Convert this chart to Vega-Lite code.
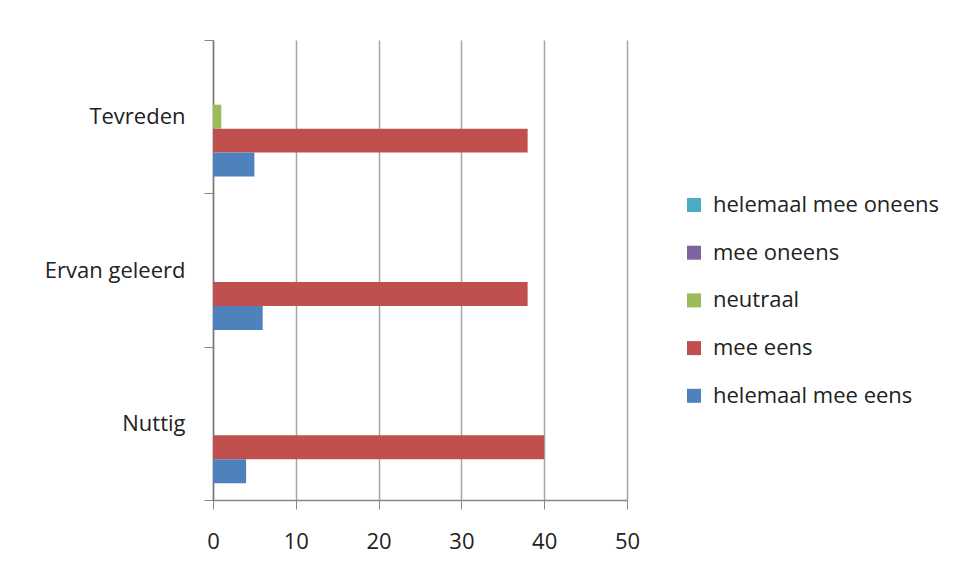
{
  "$schema": "https://vega.github.io/schema/vega-lite/v6.json",
  "autosize": "none",
  "width": 414,
  "height": 460,
  "padding": {"left": 213, "top": 40, "right": 328, "bottom": 81},
  "background": "#ffffff",
  "config": {
    "view": {"stroke": null},
    "font": "Open Sans"
  },
  "data": {
    "values": [
      {"vraag": "Tevreden", "antwoord": "helemaal mee oneens", "aantal": 0},
      {"vraag": "Tevreden", "antwoord": "mee oneens", "aantal": 0},
      {"vraag": "Tevreden", "antwoord": "neutraal", "aantal": 1},
      {"vraag": "Tevreden", "antwoord": "mee eens", "aantal": 38},
      {"vraag": "Tevreden", "antwoord": "helemaal mee eens", "aantal": 5},
      {"vraag": "Ervan geleerd", "antwoord": "helemaal mee oneens", "aantal": 0},
      {"vraag": "Ervan geleerd", "antwoord": "mee oneens", "aantal": 0},
      {"vraag": "Ervan geleerd", "antwoord": "neutraal", "aantal": 0},
      {"vraag": "Ervan geleerd", "antwoord": "mee eens", "aantal": 38},
      {"vraag": "Ervan geleerd", "antwoord": "helemaal mee eens", "aantal": 6},
      {"vraag": "Nuttig", "antwoord": "helemaal mee oneens", "aantal": 0},
      {"vraag": "Nuttig", "antwoord": "mee oneens", "aantal": 0},
      {"vraag": "Nuttig", "antwoord": "neutraal", "aantal": 0},
      {"vraag": "Nuttig", "antwoord": "mee eens", "aantal": 40},
      {"vraag": "Nuttig", "antwoord": "helemaal mee eens", "aantal": 4}
    ]
  },
  "mark": {"type": "bar", "strokeWidth": 0},
  "encoding": {
    "y": {
      "field": "vraag",
      "type": "nominal",
      "sort": ["Tevreden", "Ervan geleerd", "Nuttig"],
      "scale": {"paddingInner": 0, "paddingOuter": 0},
      "axis": {
        "title": null,
        "tickBand": "extent",
        "tickSize": 9,
        "tickColor": "#868686",
        "domainColor": "#7a7a7a",
        "domainWidth": 1.5,
        "labelFontSize": 22,
        "labelColor": "#222222",
        "labelPadding": 19,
        "grid": false
      }
    },
    "yOffset": {
      "field": "antwoord",
      "type": "nominal",
      "sort": ["helemaal mee oneens", "mee oneens", "neutraal", "mee eens", "helemaal mee eens"],
      "scale": {"paddingInner": 0, "paddingOuter": 0.7}
    },
    "x": {
      "field": "aantal",
      "type": "quantitative",
      "scale": {"domain": [0, 50], "nice": false},
      "axis": {
        "title": null,
        "values": [0, 10, 20, 30, 40, 50],
        "tickSize": 9,
        "tickColor": "#868686",
        "domainColor": "#868686",
        "domainWidth": 1.5,
        "gridColor": "#a6a6a6",
        "gridWidth": 1.5,
        "labelFontSize": 22,
        "labelColor": "#222222",
        "labelPadding": 22,
        "labelFlush": false
      }
    },
    "color": {
      "field": "antwoord",
      "type": "nominal",
      "scale": {
        "domain": ["helemaal mee oneens", "mee oneens", "neutraal", "mee eens", "helemaal mee eens"],
        "range": ["#4bacc6", "#8064a2", "#9bbb59", "#c0504d", "#4f81bd"]
      },
      "legend": {
        "title": null,
        "orient": "none",
        "legendX": 470,
        "legendY": 154,
        "padding": 0,
        "symbolType": "square",
        "symbolSize": 196,
        "symbolStrokeWidth": 0,
        "labelFontSize": 22,
        "labelColor": "#222222",
        "labelOffset": 8,
        "rowPadding": 25.7,
        "labelLimit": 400
      }
    }
  }
}
